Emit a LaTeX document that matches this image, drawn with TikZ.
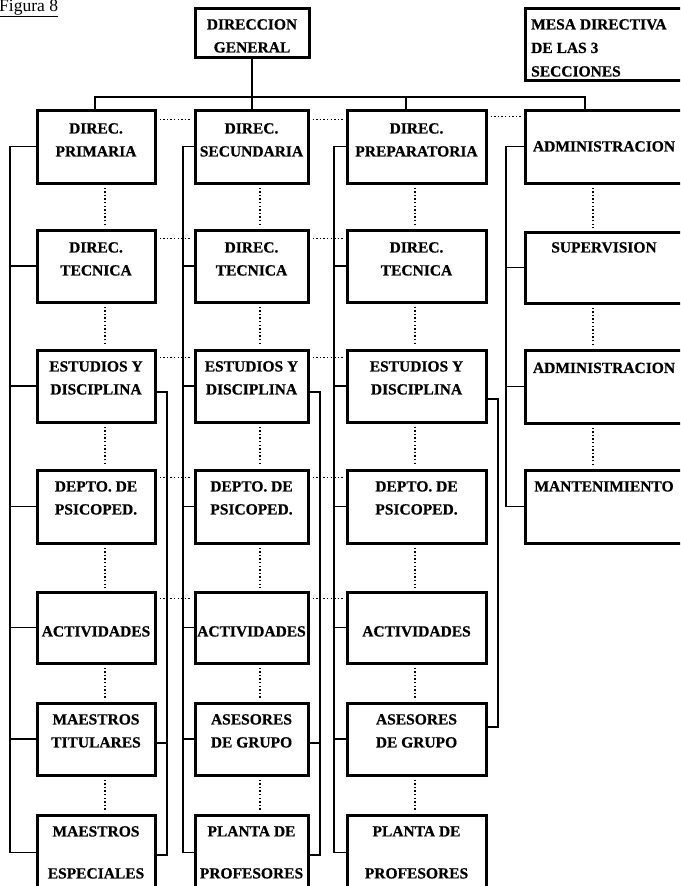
\documentclass[tikz,border=0pt]{standalone}
\usepackage{fontspec}
\setmainfont{Liberation Serif}[BoldFeatures={FakeBold=0.6}]
\usetikzlibrary{calc}
\begin{document}
\begin{tikzpicture}[x=1pt,y=-1pt,
  box/.style={draw, line width=3pt, rectangle, inner sep=0pt},
  lbl/.style={inner sep=0pt, align=center, anchor=north,
    font=\bfseries\fontsize{15.5}{23}\selectfont},
  link/.style={line width=1.2pt},
  dots/.style={line width=1.4pt, dash pattern=on 1.4pt off 2.2pt,
    shorten <=3pt, shorten >=3pt}]

\useasboundingbox (0,0) rectangle (680,886);
\fill[white] (0,0) rectangle (680,886);
\clip (0,0) rectangle (680,886);

% caption
\node[anchor=base west, inner sep=0pt, font=\fontsize{17.5}{20}\selectfont]
  (fig) at (-1,12) {Figura 8};
\draw[line width=1.1pt] ([yshift=-4.5pt]fig.base west) -- ([yshift=-4.5pt]fig.base east);

% top boxes
\node[box, minimum width=114pt, minimum height=49pt] (dg) at (252,32.5) {};
\node[lbl] (dgt) at (252,19) {DIRECCION\\GENERAL};
\node[box, minimum width=158pt, minimum height=72pt] (mesa) at (604,44) {};
\node[lbl, anchor=north west, align=left,
  font=\bfseries\fontsize{15.5}{23.5}\selectfont] (mesat) at (531,19)
  {MESA DIRECTIVA\\DE LAS 3\\SECCIONES};

% grid of boxes for the three school sections
\foreach \c/\x/\w in {1/96/118, 2/251.5/113, 3/416.5/139}
  \foreach \r/\y/\h in {1/146.5/73, 2/266/72, 3/386/72, 4/506.5/73,
                        5/627.5/71, 6/739/72, 7/852.5/75}
    \node[box, minimum width=\w pt, minimum height=\h pt] (c\c r\r) at (\x,\y) {};

% administration column
\foreach \r/\y/\h in {1/146.5/73, 2/267.5/71, 3/386.5/73, 4/506.5/73}
  \node[box, minimum width=158pt, minimum height=\h pt] (c4r\r) at (604,\y) {};

% labels
\node[lbl] (t11) at (96,123)    {DIREC.\\PRIMARIA};
\node[lbl] (t21) at (251.5,123) {DIREC.\\SECUNDARIA};
\node[lbl] (t31) at (416.5,123) {DIREC.\\PREPARATORIA};
\node[lbl] (t12) at (96,242)    {DIREC.\\TECNICA};
\node[lbl] (t22) at (251.5,242) {DIREC.\\TECNICA};
\node[lbl] (t32) at (416.5,242) {DIREC.\\TECNICA};
\node[lbl] (t13) at (96,361)    {ESTUDIOS Y\\DISCIPLINA};
\node[lbl] (t23) at (251.5,361) {ESTUDIOS Y\\DISCIPLINA};
\node[lbl] (t33) at (416.5,361) {ESTUDIOS Y\\DISCIPLINA};
\node[lbl] (t14) at (96,481)    {DEPTO. DE\\PSICOPED.};
\node[lbl] (t24) at (251.5,481) {DEPTO. DE\\PSICOPED.};
\node[lbl] (t34) at (416.5,481) {DEPTO. DE\\PSICOPED.};
\node[lbl] (t15) at (96,626)    {ACTIVIDADES};
\node[lbl] (t25) at (251.5,626) {ACTIVIDADES};
\node[lbl] (t35) at (416.5,626) {ACTIVIDADES};
\node[lbl] (t16) at (96,714)    {MAESTROS\\TITULARES};
\node[lbl] (t26) at (251.5,714) {ASESORES\\DE GRUPO};
\node[lbl] (t36) at (416.5,714) {ASESORES\\DE GRUPO};
\node[lbl] (t17) at (96,826)    {MAESTROS\\[19pt]ESPECIALES};
\node[lbl] (t27) at (251.5,826) {PLANTA DE\\[19pt]PROFESORES};
\node[lbl] (t37) at (416.5,826) {PLANTA DE\\[19pt]PROFESORES};
\node[lbl] (t41) at (604,141)   {ADMINISTRACION};
\node[lbl] (t42) at (604,242)   {SUPERVISION};
\node[lbl] (t43) at (604,362.5) {ADMINISTRACION};
\node[lbl] (t44) at (604,481)   {MANTENIMIENTO};

% bus from the general direction
\coordinate (b1) at (95,97);
\coordinate (b3) at (406,97);
\coordinate (b4) at (585,97);
\draw[link] (c1r1.north -| b1) -- (b1) -- (b4) -- (c4r1.north -| b4);
\draw[link] (b3) -- (c3r1.north -| b3);
\draw[link] (dg.south) -- (dg.south |- c2r1.north);

% left spines
\coordinate (s1) at (10,0);
\coordinate (s2) at (183,0);
\coordinate (s3) at (334,0);
\coordinate (s4) at (506,0);
\foreach \c/\n in {1/7, 2/7, 3/7, 4/4} {
  \draw[link] (c\c r1.west) -| (s\c |- c\c r\n.west) -- (c\c r\n.west);
  \foreach \r in {2,...,\n}
    \draw[link] (c\c r\r.west) -- (c\c r\r.west -| s\c);
}

% right spines
\coordinate (q1) at (167,0);
\coordinate (q2) at (320,0);
\coordinate (q3) at (498,0);
\foreach \c in {1,2} {
  \coordinate (e\c a) at ($(c\c r3.east)+(0,6)$);
  \coordinate (e\c b) at ($(c\c r6.east)+(0,4)$);
  \coordinate (e\c c) at ($(c\c r7.east)+(0,2.5)$);
  \draw[link] (e\c a) -| (q\c |- e\c c) -- (e\c c);
  \draw[link] (e\c b) -- (e\c b -| q\c);
}
\coordinate (e3a) at ($(c3r3.east)+(0,13)$);
\coordinate (e3b) at ($(c3r6.east)+(0,-12)$);
\draw[link] (e3a) -| (q3 |- e3b) -- (e3b);

% dotted links across the sections
\draw[dots] ([yshift=-11pt]c1r1.north east) -- ([yshift=-11pt]c2r1.north west);
\draw[dots] ([yshift=-11pt]c2r1.north east) -- ([yshift=-11pt]c3r1.north west);
\draw[dots] ([yshift=-8pt]c3r1.north east) -- ([yshift=-8pt]c4r1.north west);
\foreach \r/\d in {2/10, 3/9, 4/9, 5/8} {
  \draw[dots] ([yshift=-\d pt]c1r\r.north east) -- ([yshift=-\d pt]c2r\r.north west);
  \draw[dots] ([yshift=-\d pt]c2r\r.north east) -- ([yshift=-\d pt]c3r\r.north west);
}

% dotted links down each column
\coordinate (v1) at (105,0);
\coordinate (v2) at (260,0);
\coordinate (v3) at (415,0);
\coordinate (v4) at (593,0);
\foreach \c/\n in {1/6, 2/6, 3/6, 4/3}
  \foreach \r in {1,...,\n} {
    \pgfmathtruncatemacro{\s}{\r+1}
    \draw[dots] (c\c r\r.south -| v\c) -- (c\c r\s.north -| v\c);
  }
\end{tikzpicture}
\end{document}
